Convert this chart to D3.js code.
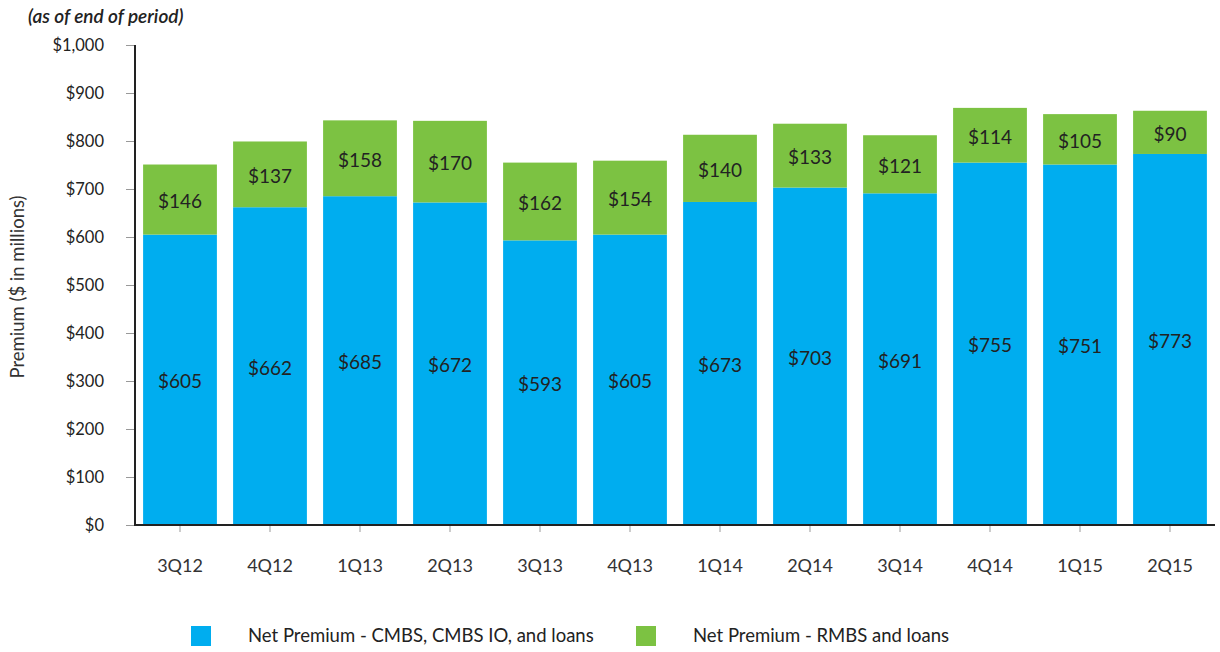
<!DOCTYPE html>
<html>
<head>
<meta charset="utf-8">
<script src="https://cdn.jsdelivr.net/npm/d3@7"></script>
<style>
  body { margin: 0; background: #fff; }
  text { font-family: Lato, "Open Sans", sans-serif; }
</style>
</head>
<body>
<div id="chart"></div>
<script>
// Chart data
const quarters = ["3Q12", "4Q12", "1Q13", "2Q13", "3Q13", "4Q13", "1Q14", "2Q14", "3Q14", "4Q14", "1Q15", "2Q15"];
const cmbs = [605, 662, 685, 672, 593, 605, 673, 703, 691, 755, 751, 773];
const rmbs = [146, 137, 158, 170, 162, 154, 140, 133, 121, 114, 105, 90];
const yTicks = [0, 100, 200, 300, 400, 500, 600, 700, 800, 900, 1000];
const seriesNames = ["Net Premium - CMBS, CMBS IO, and loans", "Net Premium - RMBS and loans"];
const colors = ["#00adef", "#7cc242"];

const width = 1220, height = 652;
const svg = d3.select("#chart").append("svg")
  .attr("width", width)
  .attr("height", height);

const x = d3.scaleBand()
  .domain(quarters)
  .range([135, 1215])
  .paddingInner(0.18)
  .paddingOuter(0.09);

const y = d3.scaleLinear()
  .domain([0, 1000])
  .range([525, 45]);

const rows = quarters.map((q, i) => ({ q, cmbs: cmbs[i], rmbs: rmbs[i] }));
const stack = d3.stack().keys(["cmbs", "rmbs"])(rows);

// Bars
const layers = svg.append("g")
  .selectAll("g")
  .data(stack)
  .join("g")
  .attr("fill", (d, i) => colors[i]);

layers.selectAll("rect")
  .data(d => d)
  .join("rect")
  .attr("x", d => x(d.data.q))
  .attr("y", d => y(d[1]))
  .attr("width", x.bandwidth())
  .attr("height", d => y(d[0]) - y(d[1]));

// Value labels
layers.selectAll("text")
  .data(d => d.map(v => ({ v, key: d.key })))
  .join("text")
  .attr("x", d => x(d.v.data.q) + x.bandwidth() / 2)
  .attr("y", d => (y(d.v[0]) + y(d.v[1])) / 2 + 2)
  .attr("dy", "0.35em")
  .attr("text-anchor", "middle")
  .attr("fill", "#222")
  .style("font-size", "19px")
  .text(d => "$" + d.v.data[d.key]);

// Y axis
const yAxis = svg.append("g")
  .attr("transform", "translate(135,0)")
  .call(d3.axisLeft(y).tickValues(yTicks).tickSize(9).tickPadding(22)
    .tickFormat(d => "$" + d3.format(",")(d)));
yAxis.select(".domain").remove();
yAxis.selectAll(".tick line").attr("stroke", "#999");
yAxis.selectAll(".tick text")
  .attr("fill", "#222")
  .style("font-size", "16.5px")
  .style("font-family", "Lato, 'Open Sans', sans-serif");

// X axis
const xAxis = svg.append("g")
  .attr("transform", "translate(0,525)")
  .call(d3.axisBottom(x).tickSize(7).tickPadding(27));
xAxis.select(".domain").remove();
xAxis.selectAll(".tick line").attr("stroke", "#999");
xAxis.selectAll(".tick text")
  .attr("fill", "#333")
  .style("font-size", "18px")
  .style("font-family", "Lato, 'Open Sans', sans-serif");

// Axis lines
svg.append("line")
  .attr("x1", 135).attr("x2", 135)
  .attr("y1", y(1000)).attr("y2", y(0))
  .attr("stroke", "#222").attr("stroke-width", 2);
svg.append("line")
  .attr("x1", 134).attr("x2", 1215)
  .attr("y1", y(0)).attr("y2", y(0))
  .attr("stroke", "#222").attr("stroke-width", 2);

// Titles
svg.append("text")
  .attr("x", 28).attr("y", 23)
  .attr("fill", "#222")
  .style("font-size", "19px")
  .style("font-style", "italic")
  .style("font-weight", "600")
  .text("(as of end of period)");

svg.append("text")
  .attr("transform", "translate(24,287) rotate(-90)")
  .attr("text-anchor", "middle")
  .attr("fill", "#333")
  .style("font-size", "18.5px")
  .text("Premium ($ in millions)");

// Legend
const legendX = [191, 636];
const legend = svg.append("g")
  .selectAll("g")
  .data(seriesNames)
  .join("g")
  .attr("transform", (d, i) => `translate(${legendX[i]},626)`);

legend.append("rect")
  .attr("width", 20).attr("height", 20)
  .attr("fill", (d, i) => colors[i]);

legend.append("text")
  .attr("x", 57).attr("y", 10)
  .attr("dy", "0.35em")
  .attr("fill", "#222")
  .style("font-size", "18.5px")
  .text(d => d);
</script>
</body>
</html>
